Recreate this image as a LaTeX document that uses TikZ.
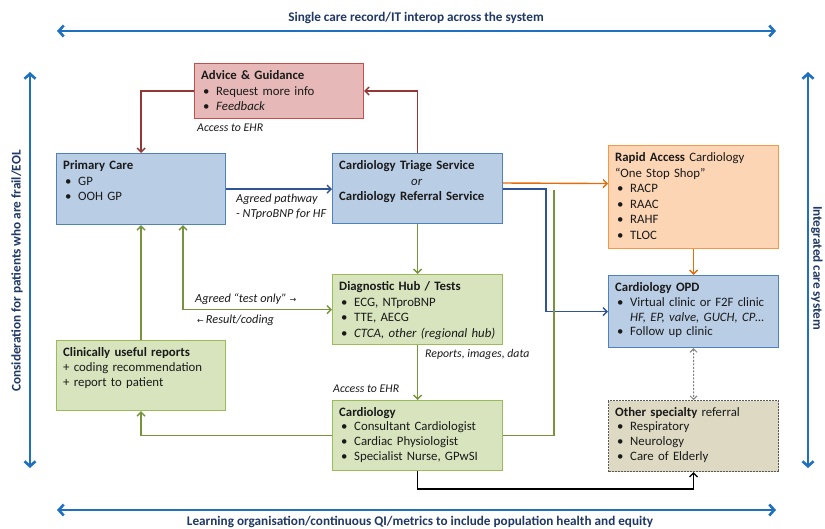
\documentclass[tikz,border=0pt]{standalone}
\usepackage{fontspec}
\setmainfont{Carlito}
\newfontfamily\symf{DejaVu Sans}
\usetikzlibrary{arrows.meta,calc}
\definecolor{bluefill}{HTML}{B9CDE5}
\definecolor{blueedge}{HTML}{4F81BD}
\definecolor{pinkfill}{HTML}{E6B9B8}
\definecolor{pinkedge}{HTML}{C0504D}
\definecolor{orfill}{HTML}{FCD5B5}
\definecolor{oredge}{HTML}{F79646}
\definecolor{grfill}{HTML}{D7E4BD}
\definecolor{gredge}{HTML}{9BBB59}
\definecolor{tanfill}{HTML}{DDD9C3}
\definecolor{tanedge}{HTML}{595959}
\definecolor{redline}{HTML}{953735}
\definecolor{blueline}{HTML}{2F5597}
\definecolor{orline}{HTML}{E46C0A}
\definecolor{grline}{HTML}{77933C}
\definecolor{bigblue}{HTML}{1F70C1}
\definecolor{navytext}{HTML}{1F3864}
\definecolor{txt}{HTML}{1A1A1A}
\newcommand\bl{\hspace*{2pt}\makebox[13pt][l]{•}}
\newcommand\tp{\rule{0pt}{9.5pt}}
\tikzset{
  bx/.style={draw, line width=1.1pt, rectangle, anchor=north west, inner sep=0pt},
  tx/.style={anchor=north west, inner sep=0pt, align=left, text width=165pt, text=txt,
    font=\fontsize{12.8}{15.5}\selectfont},
  txs/.style={tx, font=\fontsize{12.8}{14.7}\selectfont},
  lab/.style={anchor=west, inner sep=0pt, text=txt, align=left,
    font=\fontsize{11.8}{14.5}\selectfont\itshape},
  big/.style={draw=bigblue, line width=2.6pt, {Straight Barb[length=5pt,width=11pt]}-{Straight Barb[length=5pt,width=11pt]}},
  bigtxt/.style={inner sep=0pt, text=navytext, font=\fontsize{13.2}{15}\selectfont\bfseries},
  conn/.style={line width=1.4pt, -{Straight Barb[length=4pt,width=8pt]}},
  conntwo/.style={line width=1.4pt, {Straight Barb[length=4pt,width=8pt]}-{Straight Barb[length=4pt,width=8pt]}},
  plain/.style={line width=1.4pt}
}
\begin{document}
\begin{tikzpicture}[x=1pt,y=-1pt]
\useasboundingbox[fill=white] (0,0) rectangle (825,528);

% big framing arrows
\coordinate (tl) at (57,31); \coordinate (tr) at (776,31);
\coordinate (bl) at (57,510); \coordinate (br) at (776,510);
\coordinate (lt) at (30,72); \coordinate (lb) at (30,468);
\coordinate (rt) at (808,72); \coordinate (rb) at (808,468);
\draw[big] (tl) -- (tr);
\draw[big] (bl) -- (br);
\draw[big] (lt) -- (lb);
\draw[big] (rt) -- (rb);
\node[bigtxt] (ttop) at (416,18) {Single care record/IT interop across the system};
\node[bigtxt] (tbot) at (420,522) {Learning organisation/continuous QI/metrics to include population health and equity};
\node[bigtxt, rotate=90] (tleft) at (17,271) {Consideration for patients who are frail/EOL};
\node[bigtxt, rotate=-90] (tright) at (817,268) {Integrated care system};

% boxes
\node[bx, fill=pinkfill, draw=pinkedge, minimum width=169pt, minimum height=55pt] (ag) at (194,63) {};
\node[bx, fill=bluefill, draw=blueedge, minimum width=169pt, minimum height=71pt] (pc) at (56,153) {};
\node[bx, fill=bluefill, draw=blueedge, minimum width=170pt, minimum height=70pt] (tri) at (332,153) {};
\node[bx, fill=orfill, draw=oredge, minimum width=170pt, minimum height=103pt] (ra) at (608,145) {};
\node[bx, fill=bluefill, draw=blueedge, minimum width=170pt, minimum height=72pt] (opd) at (608,275) {};
\node[bx, fill=grfill, draw=gredge, minimum width=170pt, minimum height=70pt] (dh) at (332,274) {};
\node[bx, fill=grfill, draw=gredge, minimum width=169pt, minimum height=70pt] (cur) at (56,340) {};
\node[bx, fill=grfill, draw=gredge, minimum width=170pt, minimum height=70pt] (cd) at (332,400) {};
\node[bx, fill=tanfill, draw=tanedge, line width=1pt, dash pattern=on 2pt off 1pt, minimum width=170pt, minimum height=71pt] (os) at (608,400) {};

% box texts
\node[tx] (agt) at ($(ag.north west)+(7,7)$) {\tp\textbf{Advice \& Guidance}\\ \bl Request more info\\ \bl \textit{Feedback}};
\node[tx] (pct) at ($(pc.north west)+(7,7)$) {\tp\textbf{Primary Care}\\ \bl GP\\ \bl OOH GP};
\node[tx] (trit) at ($(tri.north west)+(7,7)$) {\tp\textbf{Cardiology Triage Service}\\ \hspace*{72pt}\textit{or}\\ \textbf{Cardiology Referral Service}};
\node[tx] (rat) at ($(ra.north west)+(7,7)$) {\tp\textbf{Rapid Access} Cardiology\\ “One Stop Shop”\\ \bl RACP\\ \bl RAAC\\ \bl RAHF\\ \bl TLOC};
\node[txs] (opdt) at ($(opd.north west)+(7,7)$) {\tp\textbf{Cardiology OPD}\\ \bl Virtual clinic or F2F clinic\\ \hspace*{15pt}\textit{HF, EP, valve, GUCH, CP…}\\ \bl Follow up clinic};
\node[tx] (dht) at ($(dh.north west)+(7,7)$) {\tp\textbf{Diagnostic Hub / Tests}\\ \bl ECG, NTproBNP\\ \bl TTE, AECG\\ \bl \textit{CTCA, other (regional hub)}};
\node[txs] (curt) at ($(cur.north west)+(7,7)$) {\tp\textbf{Clinically useful reports}\\ + coding recommendation\\ + report to patient};
\node[txs] (cdt) at ($(cd.north west)+(7,6.5)$) {\tp\textbf{Cardiology}\\ \bl Consultant Cardiologist\\ \bl Cardiac Physiologist\\ \bl Specialist Nurse, GPwSI};
\node[txs] (ost) at ($(os.north west)+(7,6.5)$) {\tp\textbf{Other specialty} referral\\ \bl Respiratory\\ \bl Neurology\\ \bl Care of Elderly};

% connectors
\draw[conn, draw=redline] (tri.north) |- (ag.east);
\draw[conn, draw=redline] (ag.west) -| (pc.north);
\draw[conn, draw=blueline] (pc.east) -- (pc.east -| tri.west);
\draw[conn, draw=orline] ($(tri.north east)+(0,30)$) -- ($(ra.west)+(0,-13.5)$);
\draw[conn, draw=blueline] ($(tri.north east)+(0,36)$) -| ($(opd.west)+(-62,0)$) -- (opd.west);
\coordinate (gj) at (554,190);
\draw[plain, draw=grline] (cd.east) -| (gj);
\draw[conn, draw=grline] (tri.south) -- (dh.north);
\draw[conn, draw=grline] (dh.south) -- (cd.north);
\draw[conntwo, draw=grline] ($(pc.south west)+(127,0)$) |- (dh.west);
\draw[conn, draw=grline] (cur.north) -- (pc.south);
\draw[conn, draw=grline] (cd.west) -| (cur.south);
\draw[conn, draw=black] (cd.south) -- ++(0,18) -| (os.south);
\draw[conn, draw=orline] (ra.south) -- (opd.north);
\draw[draw=gray, line width=1pt, dash pattern=on 2pt off 1.5pt, {Straight Barb[length=3.5pt,width=7pt]}-{Straight Barb[length=3.5pt,width=7pt]}] (opd.south) -- (os.north);

% connector labels
\node[lab] (l1) at (197,128) {Access to EHR};
\node[lab, anchor=north west, font=\fontsize{12.2}{14.5}\selectfont\itshape] (l2) at (236,194) {Agreed pathway\\- NTproBNP for HF};
\node[lab, font=\fontsize{12.3}{14}\selectfont\itshape] (l3) at (195,299) {Agreed “test only” {\symf\upshape\fontsize{8}{8}\selectfont →}};
\node[lab, font=\fontsize{12.3}{14}\selectfont\itshape] (l4) at (197,320) {{\symf\upshape\fontsize{8}{8}\selectfont ←}\,Result/coding};
\node[lab] (l5) at (425,354) {Reports, images, data};
\node[lab] (l6) at (333,389) {Access to EHR};
\end{tikzpicture}
\end{document}
